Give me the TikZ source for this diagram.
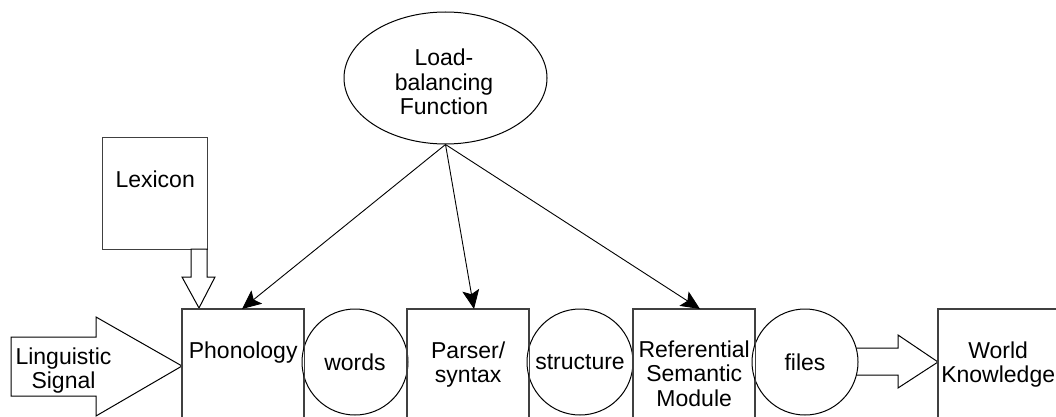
\documentclass[tikz,border=0pt]{standalone}
\usepackage{fontspec}
\setmainfont{Liberation Sans}
\usetikzlibrary{calc,arrows.meta,shapes.geometric}
\begin{document}
\begin{tikzpicture}[x=1pt,y=-1pt,
  every node/.style={font=\fontsize{23}{24.5}\selectfont},
  box/.style={draw=black!75, line width=1.4pt, rectangle, minimum width=121pt,
    minimum height=130pt, inner sep=0pt, anchor=north west},
  bubble/.style={draw, line width=1pt, circle, fill=white, minimum size=106pt, inner sep=0pt},
  lbl/.style={anchor=base, align=center, inner sep=0pt, text width=150pt},
  feed/.style={line width=0.9pt, -{Stealth[length=19pt,width=17pt,inset=4pt]}},
  hollow/.style={draw, line width=1pt, fill=white, line join=miter}
]
\useasboundingbox (0,0) rectangle (1056,417);
\clip (0,0) rectangle (1056,417);

% processing stages along the bottom row
\node[box] (phon)   at (182,309) {};
\node[box] (parser) at (407,309) {};
\node[box] (ref)    at (633,309) {};
\node[box] (world)  at (938,309) {};
\node[box, minimum width=105pt, minimum height=112pt] (lex) at (102,137) {};

% control unit
\node[draw, line width=1pt, ellipse, minimum width=203pt, minimum height=132pt,
  inner sep=0pt] (lbf) at (445.5,78) {};

% block arrows
\coordinate (sigtip) at ($(phon.north west)+(0,57)$);
\path[hollow] ($(sigtip)+(-171,-29)$) -- ($(sigtip)+(-86,-29)$) -- ($(sigtip)+(-86,-49)$)
  -- (sigtip) -- ($(sigtip)+(-86,50)$) -- ($(sigtip)+(-86,30)$) -- ($(sigtip)+(-171,30)$) -- cycle;

\coordinate (lextip) at ($(phon.north west)+(17,-1)$);
\path[hollow] (191,249) -- (191,277) -- (182,277) -- (lextip) -- (215,277) -- (207,277)
  -- (207,249) -- cycle;

\coordinate (wtip) at ($(world.north west)+(0,53)$);
\path[hollow] ($(wtip)+(-88,-14)$) -- ($(wtip)+(-40,-14)$) -- ($(wtip)+(-40,-27)$) -- (wtip)
  -- ($(wtip)+(-40,26)$) -- ($(wtip)+(-40,13)$) -- ($(wtip)+(-88,13)$) -- cycle;

% intermediate representations
\node[bubble] (words)     at (355,362) {};
\node[bubble] (structure) at (580,362) {};
\node[bubble] (files)     at (805,362) {};
\node at (words)     {words};
\node at (structure) {structure};
\node at (files)     {files};

% redraw stage outlines over the bubbles
\foreach \b in {phon,parser,ref,world}
  \draw[draw=black!75, line width=1.4pt] (\b.south west) rectangle (\b.north east);

% labels
\node[lbl] at ($(phon.north)+(0,49)$)   {Phonology};
\node[lbl] at ($(parser.north)+(0,49)$) {Parser/\\syntax};
\node[lbl] at ($(ref.north)+(0,48)$)    {Referential\\Semantic\\Module};
\node[lbl] at ($(world.north)+(-1,49)$) {World\\Knowledge};
\node[lbl] at ($(lex.north)+(0,50)$)    {Lexicon};
\node[lbl] at (444,66)                  {Load-\\balancing\\Function};
\node[lbl] at (63.5,364)                {Linguistic\\Signal};

% load-balancing control lines
\draw[feed] (lbf.south) -- ($(phon.north west)+(60,0)$);
\draw[feed] (lbf.south) -- ($(parser.north west)+(67,0)$);
\draw[feed] (lbf.south) -- ($(ref.north west)+(67,0)$);
\end{tikzpicture}
\end{document}
